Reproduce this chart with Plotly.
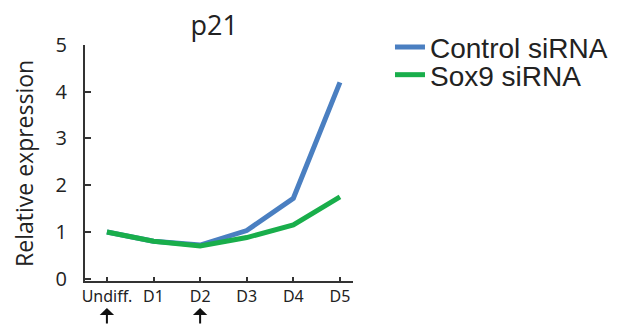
import plotly.graph_objects as go

categories = ["Undiff.", "D1", "D2", "D3", "D4", "D5"]
control_sirna = [1.0, 0.8, 0.72, 1.03, 1.72, 4.2]
sox9_sirna = [1.0, 0.8, 0.7, 0.88, 1.15, 1.75]
y_ticks = [0, 1, 2, 3, 4, 5]
arrow_at = ["Undiff.", "D2"]

xpos = list(range(len(categories)))

fig = go.Figure()
fig.add_trace(go.Scatter(x=xpos, y=control_sirna, mode="lines", name="Control siRNA",
                         line=dict(color="#4a7fc1", width=5), legend="legend"))
fig.add_trace(go.Scatter(x=xpos, y=sox9_sirna, mode="lines", name="Sox9 siRNA",
                         line=dict(color="#19ae4b", width=5), legend="legend2"))

for c in arrow_at:
    fig.add_annotation(x=categories.index(c), xref="x", y=-0.114, yref="paper",
                       text="", showarrow=True, ax=0, ay=17, arrowhead=1,
                       arrowsize=1.2, arrowwidth=2, arrowcolor="#111")

fig.add_annotation(text="Relative expression", textangle=-90, xref="paper", yref="paper",
                   x=-0.228, y=0.5, xanchor="center", yanchor="middle", showarrow=False,
                   font=dict(family="Open Sans", size=23, color="#222"))

legend_font = dict(family="Liberation Sans, Arial", size=28, color="#222")
fig.update_layout(
    width=610, height=319,
    margin=dict(l=77, r=265, t=37, b=46, autoexpand=False),
    paper_bgcolor="white", plot_bgcolor="white",
    title=dict(text="p21", x=0.338, xanchor="center", y=0.944, yanchor="middle",
               font=dict(family="Open Sans", size=27, color="#222")),
    showlegend=True,
    legend=dict(x=1.138, y=0.99, xanchor="left", yanchor="middle", font=legend_font,
                bgcolor="rgba(0,0,0,0)"),
    legend2=dict(x=1.138, y=0.873, xanchor="left", yanchor="middle", font=legend_font,
                 bgcolor="rgba(0,0,0,0)"),
    xaxis=dict(range=[-0.47, 5.28], tickvals=xpos, ticktext=categories,
               showline=True, linecolor="#333", linewidth=2, showgrid=False, zeroline=False,
               ticks="inside", ticklen=4, tickcolor="#333", tickwidth=1.5, automargin=False,
               tickfont=dict(family="Liberation Sans Narrow, Noto Sans", size=16, color="#222")),
    yaxis=dict(range=[-0.05, 5], tickvals=y_ticks, showline=True, linecolor="#333", linewidth=2,
               showgrid=False, zeroline=False, ticks="inside", ticklen=6, tickcolor="#333",
               tickwidth=1.5, automargin=False, ticklabelstandoff=12,
               tickfont=dict(family="Open Sans", size=20, color="#222")),
)

fig.write_html("out.html")
